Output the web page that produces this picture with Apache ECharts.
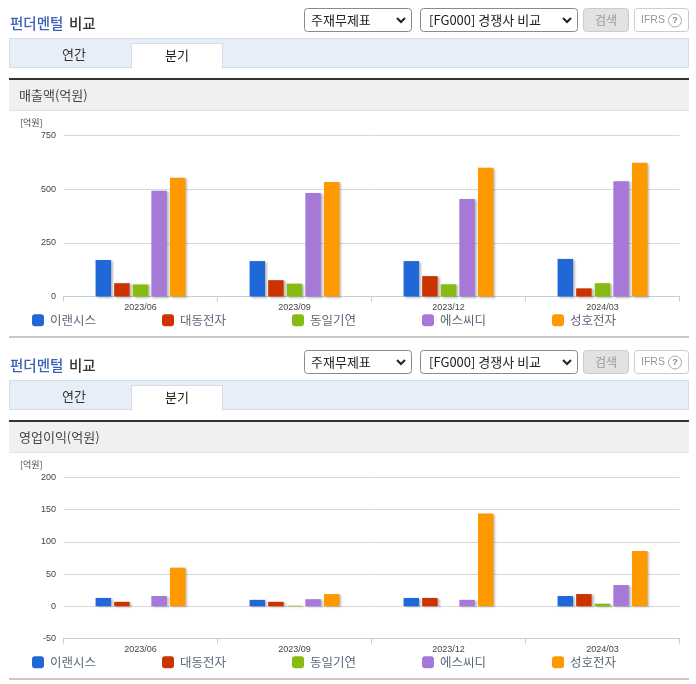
<!DOCTYPE html>
<html><head><meta charset="utf-8">
<style>html,body{margin:0;padding:0;background:#fff}#c{width:696px;height:684px}</style>
<script src="https://cdn.jsdelivr.net/npm/echarts@6/dist/echarts.min.js"></script>
</head><body><div id="c"></div>
<script>
const categories = ['2023/06','2023/09','2023/12','2024/03'];
const companies = ['이랜시스','대동전자','동일기연','에스씨디','성호전자'];
const colors = ['#2068d8','#cc3300','#88bb11','#a678d8','#ff9900'];
const sales_이랜시스 = [170,165,165,175];
const sales_대동전자 = [62,76,95,38];
const sales_동일기연 = [56,60,57,62];
const sales_에스씨디 = [493,482,454,537];
const sales_성호전자 = [553,533,600,623];
const op_이랜시스 = [13,10,13,16];
const op_대동전자 = [7,7,13,19];
const op_동일기연 = [0,1,0,4];
const op_에스씨디 = [16,11,10,33];
const op_성호전자 = [60,19,144,86];
const salesTicks = {min:0,max:750,interval:250};
const opTicks = {min:-50,max:200,interval:50};
const salesValues = [sales_이랜시스,sales_대동전자,sales_동일기연,sales_에스씨디,sales_성호전자];
const opValues = [op_이랜시스,op_대동전자,op_동일기연,op_에스씨디,op_성호전자];

const kr = '"Noto Sans CJK KR","Noto Sans",sans-serif';
const lat = '"Liberation Sans",Arial,sans-serif';
const R = (x,y,w,h,fill,stroke,r,z) => ({type:'rect',z:z||0,shape:{x,y,width:w,height:h,r:r||0},style:{fill:fill||'transparent',stroke:stroke||null,lineWidth:1}});
const T = (x,y,text,size,fill,opt) => ({type:'text',z:3,style:Object.assign({x,y,text,fontSize:size,fill,fontFamily:kr,verticalAlign:'middle'},opt||{})});
const chevron = (x,y) => ({type:'polyline',z:3,shape:{points:[[x-4,y-2],[x,y+2],[x+4,y-2]]},style:{stroke:'#222',lineWidth:2,fill:null}});

function block(dy, label){
  const e = [];
  e.push(T(10,23+dy,'펀더멘털',14.5,'#3d62b5',{fontWeight:500}));
  e.push(T(69,23+dy,'비교',14.5,'#333',{fontWeight:500}));
  e.push(R(304.5,8.5+dy,107,23,'#fff','#8a8a8a',3));
  e.push(T(311,20+dy,'주재무제표',13,'#222'));
  e.push(chevron(401,20+dy));
  e.push(R(420.5,8.5+dy,157,23,'#fff','#8a8a8a',3));
  e.push(T(429,20+dy,'[FG000] 경쟁사 비교',13,'#222'));
  e.push(chevron(567,20+dy));
  e.push(R(583.5,8.5+dy,45,23,'#e2e2e2','#cccccc',3));
  e.push(T(606,20+dy,'검색',12,'#999',{align:'center'}));
  e.push(R(634.5,8.5+dy,54,23,'#fff','#cccccc',3));
  e.push(T(641,20+dy,'IFRS',10.5,'#999',{fontFamily:lat}));
  e.push({type:'circle',z:3,shape:{cx:675,cy:20.5+dy,r:6.5},style:{fill:'#fff',stroke:'#aaa',lineWidth:1}});
  e.push(T(675,20.5+dy,'?',9,'#888',{align:'center',fontFamily:lat,fontWeight:'bold'}));
  e.push(R(9.5,38.5+dy,679,29,'#e8eef8','#d5dde8'));
  e.push(R(131.5,43.5+dy,91,25,'#fff','#d5dde8',0,1));
  e.push(R(132,66+dy,90,3,'#fff',null,0,2));
  e.push(T(74,54+dy,'연간',13,'#333',{align:'center'}));
  e.push(T(177,55+dy,'분기',13,'#222',{align:'center'}));
  e.push(R(9,78+dy,680,2,'#333'));
  e.push(R(9,80+dy,680,30,'#f0f0f0'));
  e.push(R(9,110+dy,680,1,'#e2e2e2'));
  e.push(T(19,95+dy,label,13,'#444'));
  e.push(T(20,122.5+dy,'[억원]',9,'#444'));
  e.push(R(9,336+dy,680,2,'#c8c8c8'));
  return e;
}
const shadow = {shadowColor:'rgba(90,90,90,0.4)',shadowBlur:2,shadowOffsetX:2,shadowOffsetY:1};
function bars(vals, idx){
  return companies.map((n,i)=>({
    name:n,type:'bar',xAxisIndex:idx,yAxisIndex:idx,data:vals[i],barWidth:15.5,barGap:'20%',
    itemStyle:Object.assign({color:colors[i]},shadow),emphasis:{disabled:true},animation:false
  }));
}
const xAxis = idx => ({type:'category',gridIndex:idx,data:categories,boundaryGap:true,
  axisLine:{onZero:false,lineStyle:{color:'#c0d0e0',width:1}},
  axisTick:{show:true,alignWithLabel:false,length:5,lineStyle:{color:'#c0d0e0'}},
  axisLabel:{fontSize:9,color:'#444',fontFamily:lat,margin:6.5},splitLine:{show:false}});
const yAxis = (idx,t) => Object.assign({type:'value',gridIndex:idx,
  axisLine:{show:false},axisTick:{show:false},
  axisLabel:{fontSize:9,color:'#444',fontFamily:lat,margin:7.5,padding:[2,0,0,0]},
  splitLine:{lineStyle:{color:'#d8d8d8',width:1}}},t);
const legends = top => companies.map((n,i)=>({left:32+130*i,top,padding:0,orient:'horizontal',data:[n],icon:'roundRect',itemWidth:12,itemHeight:12,selectedMode:false,
  textStyle:{fontSize:12.5,color:'#5a6878',fontFamily:kr,padding:[0,0,0,1]}}));

const chart = echarts.init(document.getElementById('c'),null,{width:696,height:684});
chart.setOption({
  animation:false,backgroundColor:'#fff',
  grid:[{left:63.5,right:16.5,top:135.5,height:161},{left:63.5,right:16.5,top:477.5,height:161}],
  xAxis:[xAxis(0),xAxis(1)],
  yAxis:[yAxis(0,salesTicks),yAxis(1,opTicks)],
  legend:[...legends(314),...legends(656)],
  series:[...bars(salesValues,0),...bars(opValues,1)],
  graphic:{elements:[...block(0,'매출액(억원)'),...block(342,'영업이익(억원)')]}
});
</script></body></html>
